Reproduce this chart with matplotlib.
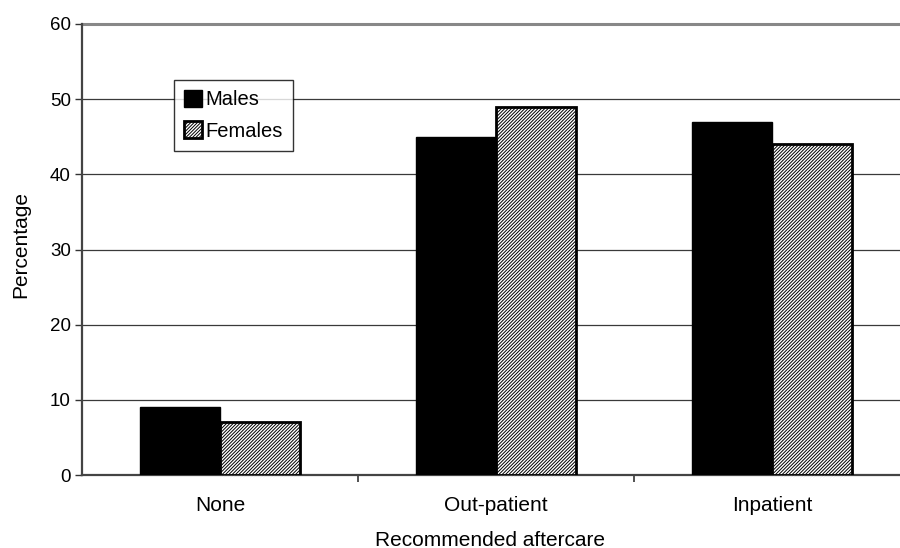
import matplotlib
matplotlib.use("Agg")
import matplotlib.pyplot as plt
import numpy as np

plt.rcParams['font.family'] = ['Liberation Sans', 'DejaVu Sans']
plt.rcParams['hatch.linewidth'] = 0.7

categories = ["None", "Out-patient", "Inpatient"]
males = [9, 45, 47]
females = [7, 49, 44]
yticks = [0, 10, 20, 30, 40, 50, 60]

fig = plt.figure(figsize=(9.0, 5.48), dpi=100)
ax = fig.add_axes([82 / 900, 73 / 548, 828 / 900, 451 / 548])

x = np.arange(len(categories))
w = 0.29
ax.bar(x - w / 2, males, width=w, color="black", edgecolor="black",
       linewidth=1.0, label="Males", zorder=3)
ax.bar(x + w / 2, females, width=w, color="white", edgecolor="black",
       hatch="//////////", linewidth=2.0, label="Females", zorder=3)

ax.set_xlim(-0.5, 2.5)
ax.set_ylim(0, 60)
ax.set_yticks(yticks)
ax.yaxis.grid(True, color="#3a3a3a", linewidth=0.9, zorder=0)
ax.set_axisbelow(True)

ax.set_xticks(x)
ax.set_xticklabels(categories)
ax.set_xticks([0.5, 1.5], minor=True)
ax.tick_params(axis="x", which="major", length=0, pad=15, labelsize=15)
ax.tick_params(axis="x", which="minor", length=5, width=1.2, direction="out", color="#333333")
ax.tick_params(axis="y", length=5, width=1.0, direction="out", pad=3, labelsize=13.5, color="#333333")

for s in ["top", "right"]:
    ax.spines[s].set_visible(False)
for s in ["left", "bottom"]:
    ax.spines[s].set_color("#444444")
    ax.spines[s].set_linewidth(1.6)

# top border of the plot area
ax.axhline(60, color="#888888", linewidth=2.2, zorder=1, clip_on=False)

fig.text(21 / 900, 1 - 245 / 548, "Percentage", fontsize=15, rotation=90,
         ha="center", va="center")
fig.text(490 / 900, 1 - 540 / 548, "Recommended aftercare", fontsize=15,
         ha="center", va="center")

leg = fig.legend(loc="upper left", bbox_to_anchor=(174 / 900, 1 - 80 / 548),
                 fontsize=14.5, frameon=True, fancybox=False, edgecolor="black",
                 handlelength=0.9, handleheight=0.9, handletextpad=0.15,
                 borderpad=0.5, borderaxespad=0, labelspacing=0.6)
leg.get_frame().set_linewidth(1.0)

fig.savefig("out.png", dpi=100)
